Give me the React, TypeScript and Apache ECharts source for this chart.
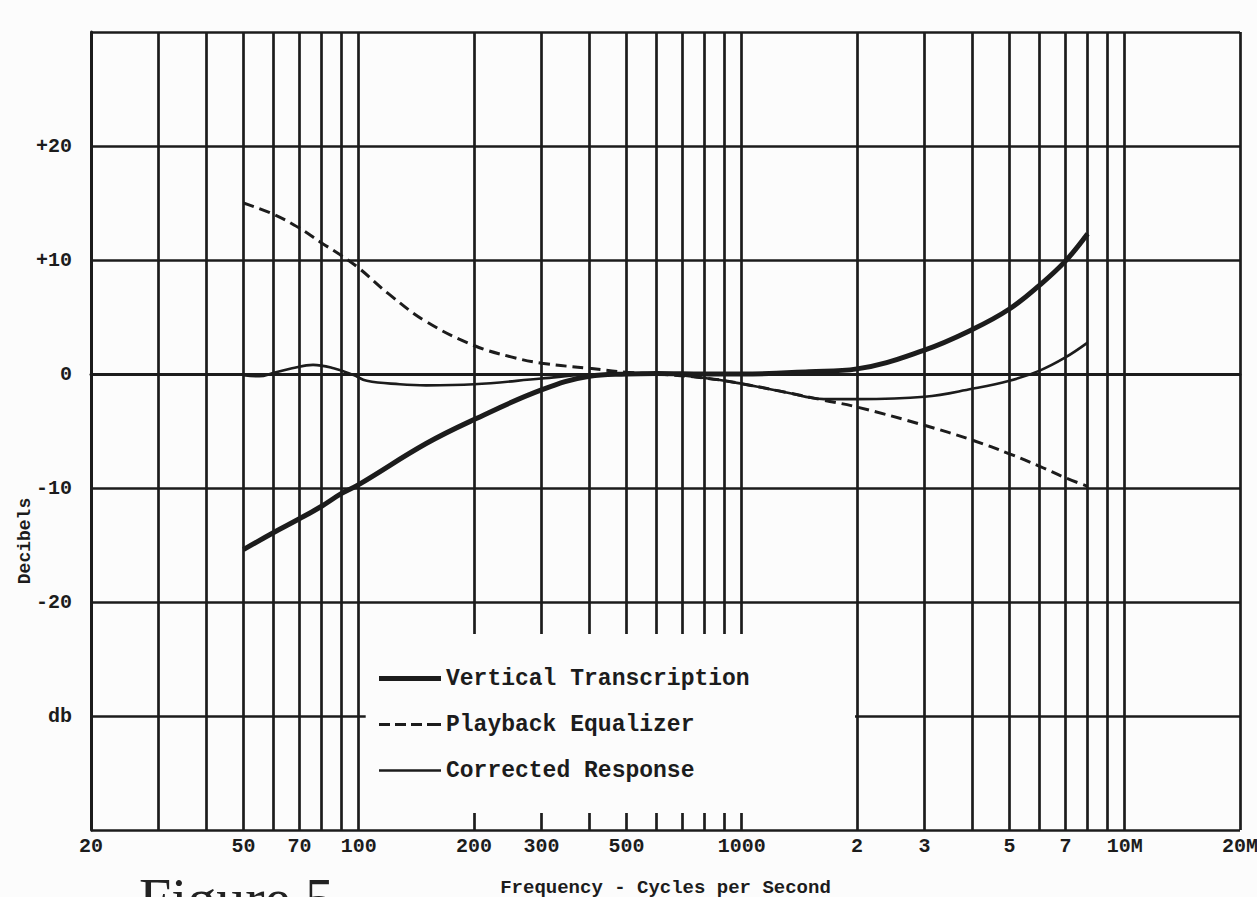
import React, { useEffect, useRef } from 'react';
import * as echarts from 'echarts';

// Vertical grid lines (frequency, Hz)
const gridFreqs = [20, 30, 40, 50, 60, 70, 80, 90, 100, 200, 300, 400, 500, 600, 700, 800, 900, 1000, 2000, 3000, 4000, 5000, 6000, 7000, 8000, 9000, 10000, 20000];
// Labelled frequencies and their tick labels
const labelFreqs = [20, 50, 70, 100, 200, 300, 500, 1000, 2000, 3000, 5000, 7000, 10000, 20000];
const freqLabels = ['20', '50', '70', '100', '200', '300', '500', '1000', '2', '3', '5', '7', '10M', '20M'];

// Y ticks (dB)
const yTicks = [20, 10, 0, -10, -20, -30];
const yTickLabels = ['+20', '+10', '0', '-10', '-20', 'db'];

// Vertical Transcription
const vtFreq = [50, 60, 70, 80, 90, 100, 150, 200, 300, 400, 500, 600, 800, 1000, 1500, 2000, 3000, 4000, 5000, 6000, 7000, 8000];
const vtDb = [-15.4, -13.9, -12.7, -11.6, -10.5, -9.7, -6.1, -4.0, -1.4, -0.2, 0, 0.05, 0, 0, 0.2, 0.45, 2.1, 3.9, 5.7, 7.8, 9.9, 12.3];

// Playback Equalizer
const peFreq = [50, 60, 70, 80, 90, 100, 120, 150, 200, 250, 300, 400, 500, 600, 800, 1000, 1300, 1640, 2000, 3000, 4000, 5000, 6000, 7000, 8000];
const peDb = [15.0, 14.0, 12.8, 11.5, 10.4, 9.3, 7.0, 4.6, 2.5, 1.5, 0.95, 0.5, 0.15, 0, -0.35, -0.85, -1.6, -2.3, -2.9, -4.5, -5.8, -7.0, -8.1, -9.1, -9.85];

// Corrected Response
const crFreq = [50, 55, 60, 67, 76, 86, 97, 105, 128, 150, 200, 300, 400, 500, 600, 800, 1000, 1300, 1640, 2000, 3000, 4000, 5000, 6000, 7000, 8000];
const crDb = [-0.1, -0.2, 0.1, 0.5, 0.8, 0.5, -0.1, -0.6, -0.9, -1.0, -0.9, -0.4, -0.05, 0, 0, -0.35, -0.85, -1.6, -2.2, -2.2, -2.0, -1.3, -0.6, 0.3, 1.45, 2.75];

const seriesNames = ['Vertical Transcription', 'Playback Equalizer', 'Corrected Response'];
// Legend key glyphs: thick rule, dashed rule, thin rule
const legendIcons = [
  'path://M0,0h62v5h-62z',
  'path://M0,0h11v3h-11zM16,0h11v3h-11zM32,0h11v3h-11zM48,0h14v3h-14z',
  'path://M0,0h62v2.6h-62z',
];

const INK = '#1c1c1c';
const BG = '#fcfcfc';
const MONO = '"Liberation Mono", "DejaVu Sans Mono", monospace';
const SERIF = '"Liberation Serif", "DejaVu Serif", serif';

function zip(xs: number[], ys: number[]) {
  return xs.map((x, i) => [x, ys[i]]);
}

export default function App() {
  const ref = useRef<HTMLDivElement | null>(null);

  useEffect(() => {
    if (!ref.current) return;
    const chart = echarts.init(ref.current, undefined, { renderer: 'svg' });

    const gridMarkData = gridFreqs.map((f) => {
      const li = labelFreqs.indexOf(f);
      return {
        xAxis: f,
        label:
          li >= 0
            ? {
                show: true,
                position: 'start',
                formatter: freqLabels[li],
                fontFamily: MONO,
                fontWeight: 'bold',
                fontSize: 20,
                color: INK,
                distance: 6,
              }
            : { show: false },
      };
    });

    const texts = [
      {
        type: 'text',
        x: 25,
        y: 541,
        rotation: Math.PI / 2,
        style: {
          text: 'Decibels',
          fontFamily: MONO,
          fontWeight: 'bold',
          fontSize: 18,
          fill: INK,
          align: 'center',
          verticalAlign: 'middle',
        },
      },
      {
        type: 'text',
        x: 139,
        y: 869,
        style: {
          text: 'Figure 5',
          fontFamily: SERIF,
          fontSize: 58,
          fill: '#222',
          align: 'left',
          verticalAlign: 'top',
        },
      },
    ];

    chart.setOption({
      animation: false,
      backgroundColor: BG,
      grid: { left: 91, right: 17, top: 32, bottom: 67, containLabel: false, outerBoundsMode: 'none' },
      xAxis: {
        type: 'log',
        logBase: 10,
        min: 20,
        max: 20000,
        name: 'Frequency - Cycles per Second',
        nameLocation: 'middle',
        nameGap: 48,
        nameTextStyle: { fontFamily: MONO, fontWeight: 'bold', fontSize: 19, color: INK },
        axisLine: { show: true, lineStyle: { color: INK, width: 3 } },
        axisTick: { show: false },
        axisLabel: { show: false },
        splitLine: { show: false },
        minorSplitLine: { show: false },
      },
      yAxis: {
        type: 'value',
        min: -40,
        max: 30,
        interval: 10,
        axisLine: { show: true, lineStyle: { color: INK, width: 3 } },
        axisTick: { show: false },
        axisLabel: {
          margin: 19,
          fontFamily: MONO,
          fontWeight: 'bold',
          fontSize: 20,
          color: INK,
          formatter: (v: number) => {
            const i = yTicks.indexOf(v);
            return i >= 0 ? yTickLabels[i] : '';
          },
        },
        splitLine: { show: true, lineStyle: { color: INK, width: 2.7 } },
      },
      legend: {
        data: seriesNames.map((n, i) => ({ name: n, icon: legendIcons[i] })),
        orient: 'vertical',
        left: 374,
        top: 662,
        itemGap: 23,
        itemWidth: 62,
        itemHeight: 16,
        symbolKeepAspect: true,
        z: 8,
        textStyle: { fontFamily: MONO, fontWeight: 'bold', fontSize: 23, color: INK, padding: [0, 0, 0, 0] },
      },
      graphic: texts,
      series: [
        {
          name: '__grid',
          type: 'line',
          data: [],
          z: 1,
          silent: true,
          markLine: {
            silent: true,
            z: 1,
            symbol: ['none', 'none'],
            lineStyle: { color: INK, width: 2.7, type: 'solid' },
            emphasis: { disabled: true },
            data: gridMarkData,
          },
        },
        {
          name: seriesNames[0],
          type: 'line',
          data: zip(vtFreq, vtDb),
          smooth: 0.4,
          symbol: 'none',
          showSymbol: false,
          z: 10,
          lineStyle: { color: INK, width: 5 },
          itemStyle: { color: INK },
        },
        {
          name: seriesNames[1],
          type: 'line',
          data: zip(peFreq, peDb),
          smooth: 0.4,
          symbol: 'none',
          showSymbol: false,
          z: 10,
          lineStyle: { color: INK, width: 3, type: [11, 6] },
          itemStyle: { color: INK },
        },
        {
          name: seriesNames[2],
          type: 'line',
          data: zip(crFreq, crDb),
          smooth: 0.4,
          symbol: 'none',
          showSymbol: false,
          z: 10,
          lineStyle: { color: INK, width: 2.6 },
          itemStyle: { color: INK },
        },
      ],
    });

    // White legend panel covering part of the grid, positioned through the axes
    const p1 = chart.convertToPixel({ gridIndex: 0 }, [100, -22.8]) as number[];
    const p2 = chart.convertToPixel({ gridIndex: 0 }, [2000, -38.5]) as number[];
    chart.setOption({
      graphic: [
        ...texts,
        {
          type: 'rect',
          z: 6,
          silent: true,
          shape: { x: p1[0] + 7, y: p1[1], width: p2[0] - p1[0] - 9, height: p2[1] - p1[1] },
          style: { fill: BG },
        },
      ],
    });

    return () => chart.dispose();
  }, []);

  return (
    <div
      ref={ref}
      style={{ position: 'fixed', left: 0, top: 0, width: 1257, height: 897, background: BG }}
    />
  );
}
